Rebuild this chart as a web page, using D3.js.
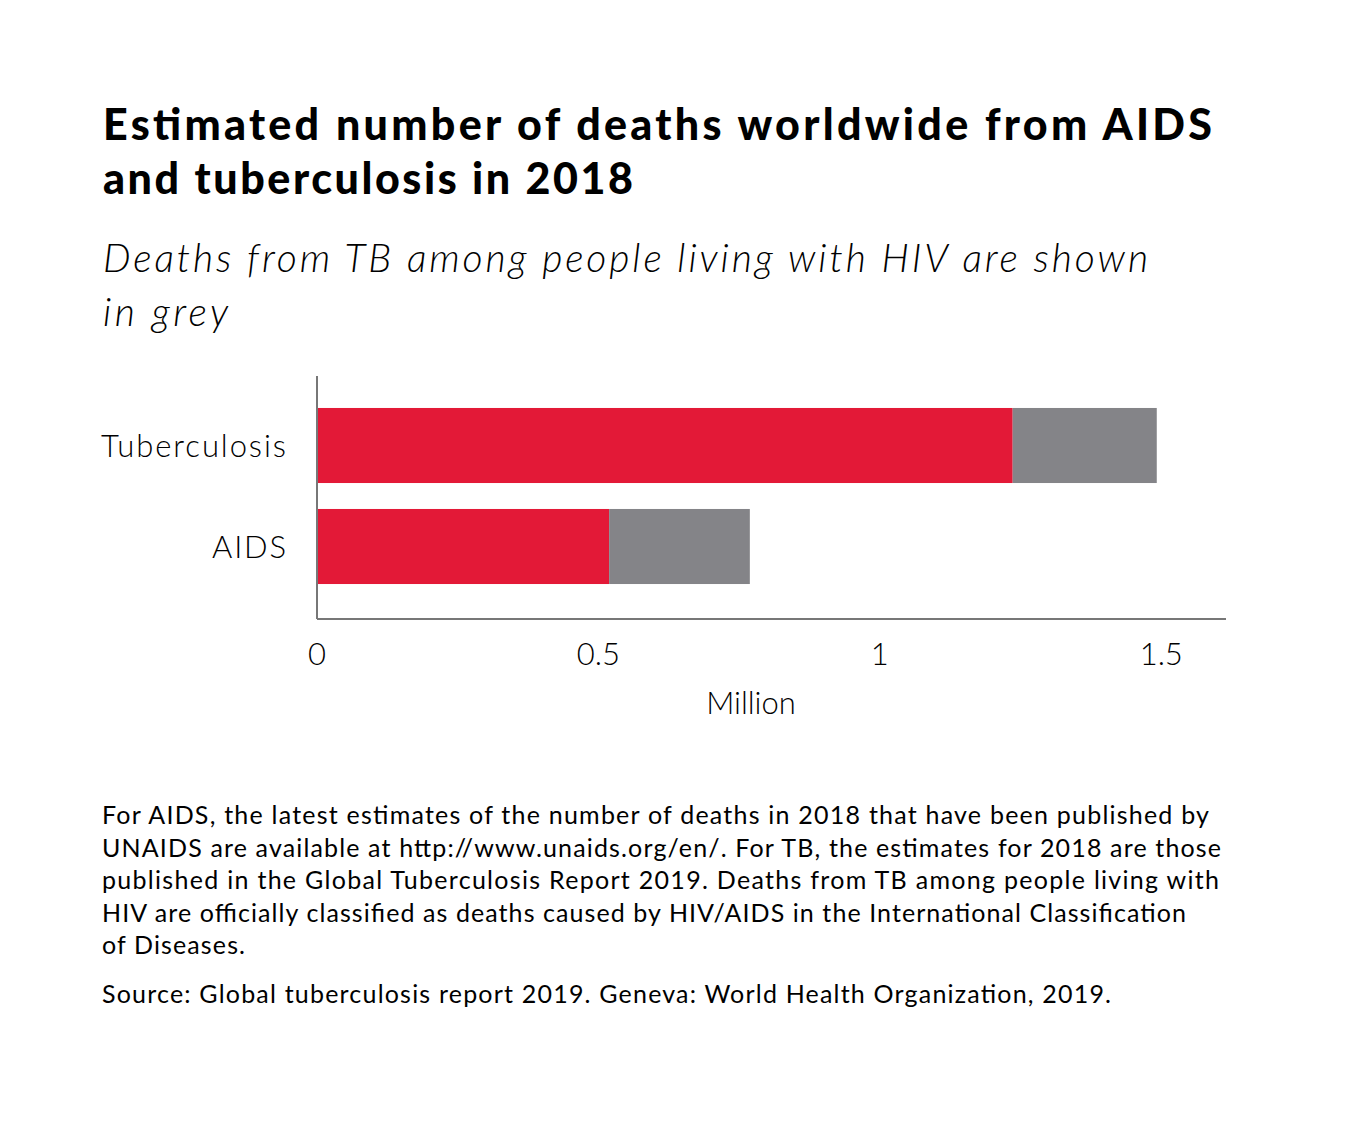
<!DOCTYPE html>
<html><head><meta charset="utf-8">
<script src="https://cdn.jsdelivr.net/npm/d3@7"></script>
<style>body{margin:0;background:#fff;font-family:Lato,"Noto Sans",sans-serif;}</style>
</head><body>
<script>
var categories = ["Tuberculosis", "AIDS"];
var notHivValues = [1.236, 0.519];
var hivTbValues = [0.256, 0.250];
var tickValues = [0, 0.5, 1, 1.5];
var tickLabels = ["0", "0.5", "1", "1.5"];

var svg = d3.select("body").append("svg").attr("width", 1362).attr("height", 1143);

// title block
svg.append("text").attr("x", 103).attr("y", 140).attr("font-size", 43).attr("font-weight", 900)
	.attr("textLength", 1109).text("Estimated number of deaths worldwide from AIDS");
svg.append("text").attr("x", 103).attr("y", 194).attr("font-size", 43).attr("font-weight", 900)
	.attr("textLength", 530).text("and tuberculosis in 2018");
svg.append("text").attr("x", 103).attr("y", 272).attr("font-size", 39).attr("font-style", "italic").attr("font-weight", 300)
	.attr("textLength", 1045).text("Deaths from TB among people living with HIV are shown");
svg.append("text").attr("x", 103).attr("y", 326).attr("font-size", 39).attr("font-style", "italic").attr("font-weight", 300)
	.attr("textLength", 125).text("in grey");

var x = d3.scaleLinear().domain([0, 1.615]).range([317, 1226]);
var y = d3.scaleBand().domain(categories).range([395, 597]).paddingInner(0.257).paddingOuter(0.1285);

svg.selectAll(".red").data(categories).enter().append("rect")
	.attr("x", x(0)).attr("y", function(d){ return y(d); })
	.attr("width", function(d,i){ return x(notHivValues[i]) - x(0); })
	.attr("height", y.bandwidth()).attr("fill", "#e31937");
svg.selectAll(".grey").data(categories).enter().append("rect")
	.attr("x", function(d,i){ return x(notHivValues[i]); }).attr("y", function(d){ return y(d); })
	.attr("width", function(d,i){ return x(notHivValues[i] + hivTbValues[i]) - x(notHivValues[i]); })
	.attr("height", y.bandwidth()).attr("fill", "#848488");

//axes
svg.append("line").attr("x1", 317).attr("x2", 317).attr("y1", 376).attr("y2", 619).attr("stroke", "#777").attr("stroke-width", 2);
svg.append("line").attr("x1", 317).attr("x2", 1226).attr("y1", 619).attr("y2", 619).attr("stroke", "#777").attr("stroke-width", 2);

svg.selectAll(".cat").data(categories).enter().append("text")
	.attr("x", 286).attr("y", function(d){ return y(d) + y.bandwidth()/2 + 11; })
	.attr("text-anchor", "end").attr("font-size", 31).attr("font-weight", 300)
	.attr("textLength", function(d,i){ return [185, 74][i]; }).text(function(d){ return d; });

svg.selectAll(".tick").data(tickValues).enter().append("text")
	.attr("x", function(d){ return x(d); }).attr("y", 665).attr("text-anchor", "middle")
	.attr("font-size", 31).attr("font-weight", 300).text(function(d,i){ return tickLabels[i]; });
svg.append("text").attr("x", 751).attr("y", 714).attr("text-anchor", "middle").attr("font-size", 31)
	.attr("font-weight", 300).text("Million");

var notes = [
	"For AIDS, the latest estimates of the number of deaths in 2018 that have been published by",
	"UNAIDS are available at http://www.unaids.org/en/. For TB, the estimates for 2018 are those",
	"published in the Global Tuberculosis Report 2019. Deaths from TB among people living with",
	"HIV are officially classified as deaths caused by HIV/AIDS in the International Classification",
	"of Diseases."
];
svg.selectAll(".note").data(notes).enter().append("text")
	.attr("x", 102).attr("y", function(d,i){ return 824 + i*32.5; })
	.attr("font-size", 25).attr("textLength", function(d,i){ return [1107,1119,1117,1084,143][i]; })
	.text(function(d){ return d; });
svg.append("text").attr("x", 102).attr("y", 1003).attr("font-size", 25).attr("textLength", 1009)
	.text("Source: Global tuberculosis report 2019. Geneva: World Health Organization, 2019.");
</script>
</body></html>
